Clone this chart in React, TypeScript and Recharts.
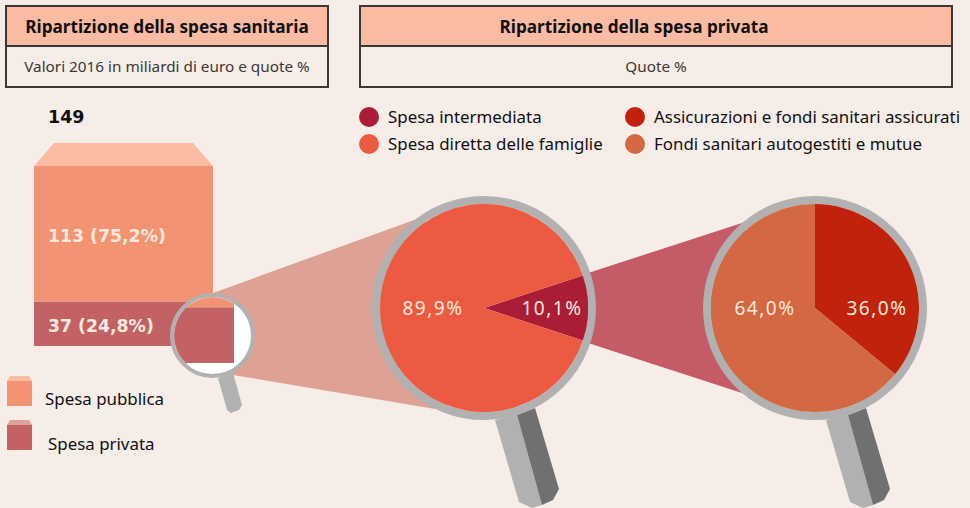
import { Bar, BarChart, Cell, LabelList, Pie, PieChart, XAxis, YAxis } from 'recharts';
import type { CSSProperties } from 'react';

const barCategory = ['Spesa sanitaria'];
const totalLabel = '149';
const publicLabel = 'Spesa pubblica';
const privateLabel = 'Spesa privata';
const publicValue = 113;
const privateValue = 37;
const publicShare = '75,2%';
const privateShare = '24,8%';

const privateNames = ['Spesa intermediata', 'Spesa diretta delle famiglie'];
const privateValues = [10.1, 89.9];
const privateColors = ['#ab1c36', '#ec5b41'];

const insuranceNames = ['Assicurazioni e fondi sanitari assicurati', 'Fondi sanitari autogestiti e mutue'];
const insuranceValues = [36.0, 64.0];
const insuranceColors = ['#c1220b', '#d36843'];

const barData = barCategory.map((name) => ({ name, pubblica: publicValue, privata: privateValue }));
const fmt = (v: number) => v.toFixed(1).replace('.', ',') + '%';

const FONT = '"Noto Sans", sans-serif';
const BOLD_FONT = '"DejaVu Sans", sans-serif';
const BG = '#f6ede8';
const RING = '#b1b1b1';
const SIZE = 208;

function pieLabel(offsets: number[]) {
  return (p: any) => (
    <text
      x={SIZE / 2 + offsets[p.index]}
      y={SIZE / 2}
      textAnchor="middle"
      dominantBaseline="central"
      fill="#f9e9df"
      fontFamily={FONT}
      fontSize={19}
      letterSpacing={1.5}
    >
      {fmt(p.value)}
    </text>
  );
}

function LensPie({ left, values, names, colors, startAngle, offsets }: {
  left: number; values: number[]; names: string[]; colors: string[]; startAngle: number; offsets: number[];
}) {
  const data = names.map((name, i) => ({ name, value: values[i] }));
  return (
    <div style={{ position: 'absolute', left, top: 196, width: 224, height: 224, boxSizing: 'border-box', border: `8px solid ${RING}`, borderRadius: '50%' }}>
      <PieChart width={SIZE} height={SIZE} margin={{ top: 0, right: 0, bottom: 0, left: 0 }}>
        <Pie
          data={data}
          dataKey="value"
          cx="50%"
          cy="50%"
          innerRadius={0}
          outerRadius={SIZE / 2}
          startAngle={startAngle}
          endAngle={startAngle - 360}
          stroke="none"
          labelLine={false}
          label={pieLabel(offsets)}
          isAnimationActive={false}
        >
          {data.map((d, i) => <Cell key={d.name} fill={colors[i]} />)}
        </Pie>
      </PieChart>
    </div>
  );
}

function Handle({ dx }: { dx: number }) {
  return (
    <g transform={`translate(${dx} 0)`}>
      <polygon points="495,420 517,415 542,505 532,508 519,502" fill={RING} />
      <polygon points="517,415 535,408 559,489 553,500 542,505" fill="#707070" />
    </g>
  );
}

const box: CSSProperties = {
  position: 'absolute',
  boxSizing: 'border-box',
  border: '2px solid #3c3735',
  textAlign: 'center',
  fontFamily: FONT,
  color: '#111',
};

function Header({ left, width, title, sub, shift = 0 }: { left: number; width: number; title: string; sub: string; shift?: number }) {
  return (
    <>
      <div style={{ ...box, left, top: 5, width, height: 42, paddingRight: shift, background: '#f9bca3', fontWeight: 700, fontSize: 17.2, lineHeight: '40px' }}>{title}</div>
      <div style={{ ...box, left, top: 45, width, height: 43, color: '#3c3735', fontSize: 15.3, lineHeight: '39px' }}>{sub}</div>
    </>
  );
}

function Dot({ x, y, color, text }: { x: number; y: number; color: string; text: string }) {
  return (
    <>
      <div style={{ position: 'absolute', left: x - 10, top: y - 10, width: 20, height: 20, borderRadius: '50%', background: color }} />
      <div style={{ position: 'absolute', left: x + 19, top: y - 13, lineHeight: '26px', fontFamily: FONT, fontSize: 16.9, color: '#111', whiteSpace: 'nowrap' }}>{text}</div>
    </>
  );
}

function Swatch({ y, top, front }: { y: number; top: string; front: string }) {
  return (
    <>
      <polygon points={`7,${y} 32,${y} 29,${y - 5} 10,${y - 5}`} fill={top} />
      <rect x={7} y={y} width={25} height={25} fill={front} />
    </>
  );
}

export default function App() {
  return (
    <div style={{ position: 'absolute', left: 0, top: 0, width: 970, height: 508, background: BG, overflow: 'hidden' }}>
      <svg width={970} height={508} style={{ position: 'absolute', left: 0, top: 0 }}>
        <polygon points="213,293 425,216 435,409 233,375" fill="#dea196" />
        <polygon points="585,274 745,222 745,394 585,342" fill="#c35c67" />
        <polygon points="54,143 193,143 213,166 34,166" fill="#f9bca3" />
        <polygon points="218,378 233,373 242,405 239,410 231,413 227,410" fill={RING} />
        <Handle dx={0} />
        <Handle dx={331} />
        <Swatch y={381} top="#f9bca3" front="#f29374" />
        <Swatch y={425} top="#dea196" front="#c26264" />
      </svg>

      <Header left={5} width={324} title="Ripartizione della spesa sanitaria" sub="Valori 2016 in miliardi di euro e quote %" />
      <Header left={359} width={594} title="Ripartizione della spesa privata" sub="Quote %" shift={44} />

      <div style={{ position: 'absolute', left: 48, top: 104, fontFamily: BOLD_FONT, fontWeight: 700, fontSize: 17.5, lineHeight: '26px', color: '#111' }}>{totalLabel}</div>

      <div style={{ position: 'absolute', left: 34, top: 166 }}>
        <BarChart width={179} height={180} data={barData} margin={{ top: 0, right: 0, bottom: 0, left: 0 }} barCategoryGap={0}>
          <XAxis dataKey="name" hide />
          <YAxis hide domain={[0, 150]} />
          <Bar dataKey="privata" stackId="a" fill="#c26264" isAnimationActive={false}>
            <LabelList dataKey="privata" position="insideLeft" offset={14} dy={2} formatter={(v: any) => `${v} (${privateShare})`} fill="#f9e9df" fontFamily={BOLD_FONT} fontWeight={700} fontSize={17.3} />
          </Bar>
          <Bar dataKey="pubblica" stackId="a" fill="#f29374" isAnimationActive={false}>
            <LabelList dataKey="pubblica" position="insideLeft" offset={14} dy={2} formatter={(v: any) => `${v} (${publicShare})`} fill="#f9e9df" fontFamily={BOLD_FONT} fontWeight={700} fontSize={17.3} />
          </Bar>
        </BarChart>
      </div>

      <div style={{ position: 'absolute', left: 170, top: 293, width: 85, height: 85, boxSizing: 'border-box', border: `4px solid ${RING}`, borderRadius: '50%', background: '#fff', overflow: 'hidden' }}>
        <div style={{ position: 'absolute', left: -24, top: -134 }}>
          <BarChart width={84} height={200} data={barData} margin={{ top: 0, right: 0, bottom: 0, left: 0 }} barCategoryGap={0}>
            <XAxis dataKey="name" hide />
            <YAxis hide domain={[0, 132.5]} allowDataOverflow />
            <Bar dataKey="privata" stackId="a" fill="#c26264" isAnimationActive={false} />
            <Bar dataKey="pubblica" stackId="a" fill="#f29374" isAnimationActive={false} />
          </BarChart>
        </div>
      </div>

      <LensPie left={372} values={privateValues} names={privateNames} colors={privateColors} startAngle={18.18} offsets={[68, -51]} />
      <LensPie left={703} values={insuranceValues} names={insuranceNames} colors={insuranceColors} startAngle={90} offsets={[62, -50]} />

      <Dot x={369} y={117} color={privateColors[0]} text={privateNames[0]} />
      <Dot x={369} y={144} color={privateColors[1]} text={privateNames[1]} />
      <Dot x={635} y={117} color={insuranceColors[0]} text={insuranceNames[0]} />
      <Dot x={635} y={144} color={insuranceColors[1]} text={insuranceNames[1]} />

      <div style={{ position: 'absolute', left: 45, top: 386, fontFamily: FONT, fontSize: 16.9, lineHeight: '26px', color: '#111' }}>{publicLabel}</div>
      <div style={{ position: 'absolute', left: 48, top: 431, fontFamily: FONT, fontSize: 16.9, lineHeight: '26px', color: '#111' }}>{privateLabel}</div>
    </div>
  );
}
